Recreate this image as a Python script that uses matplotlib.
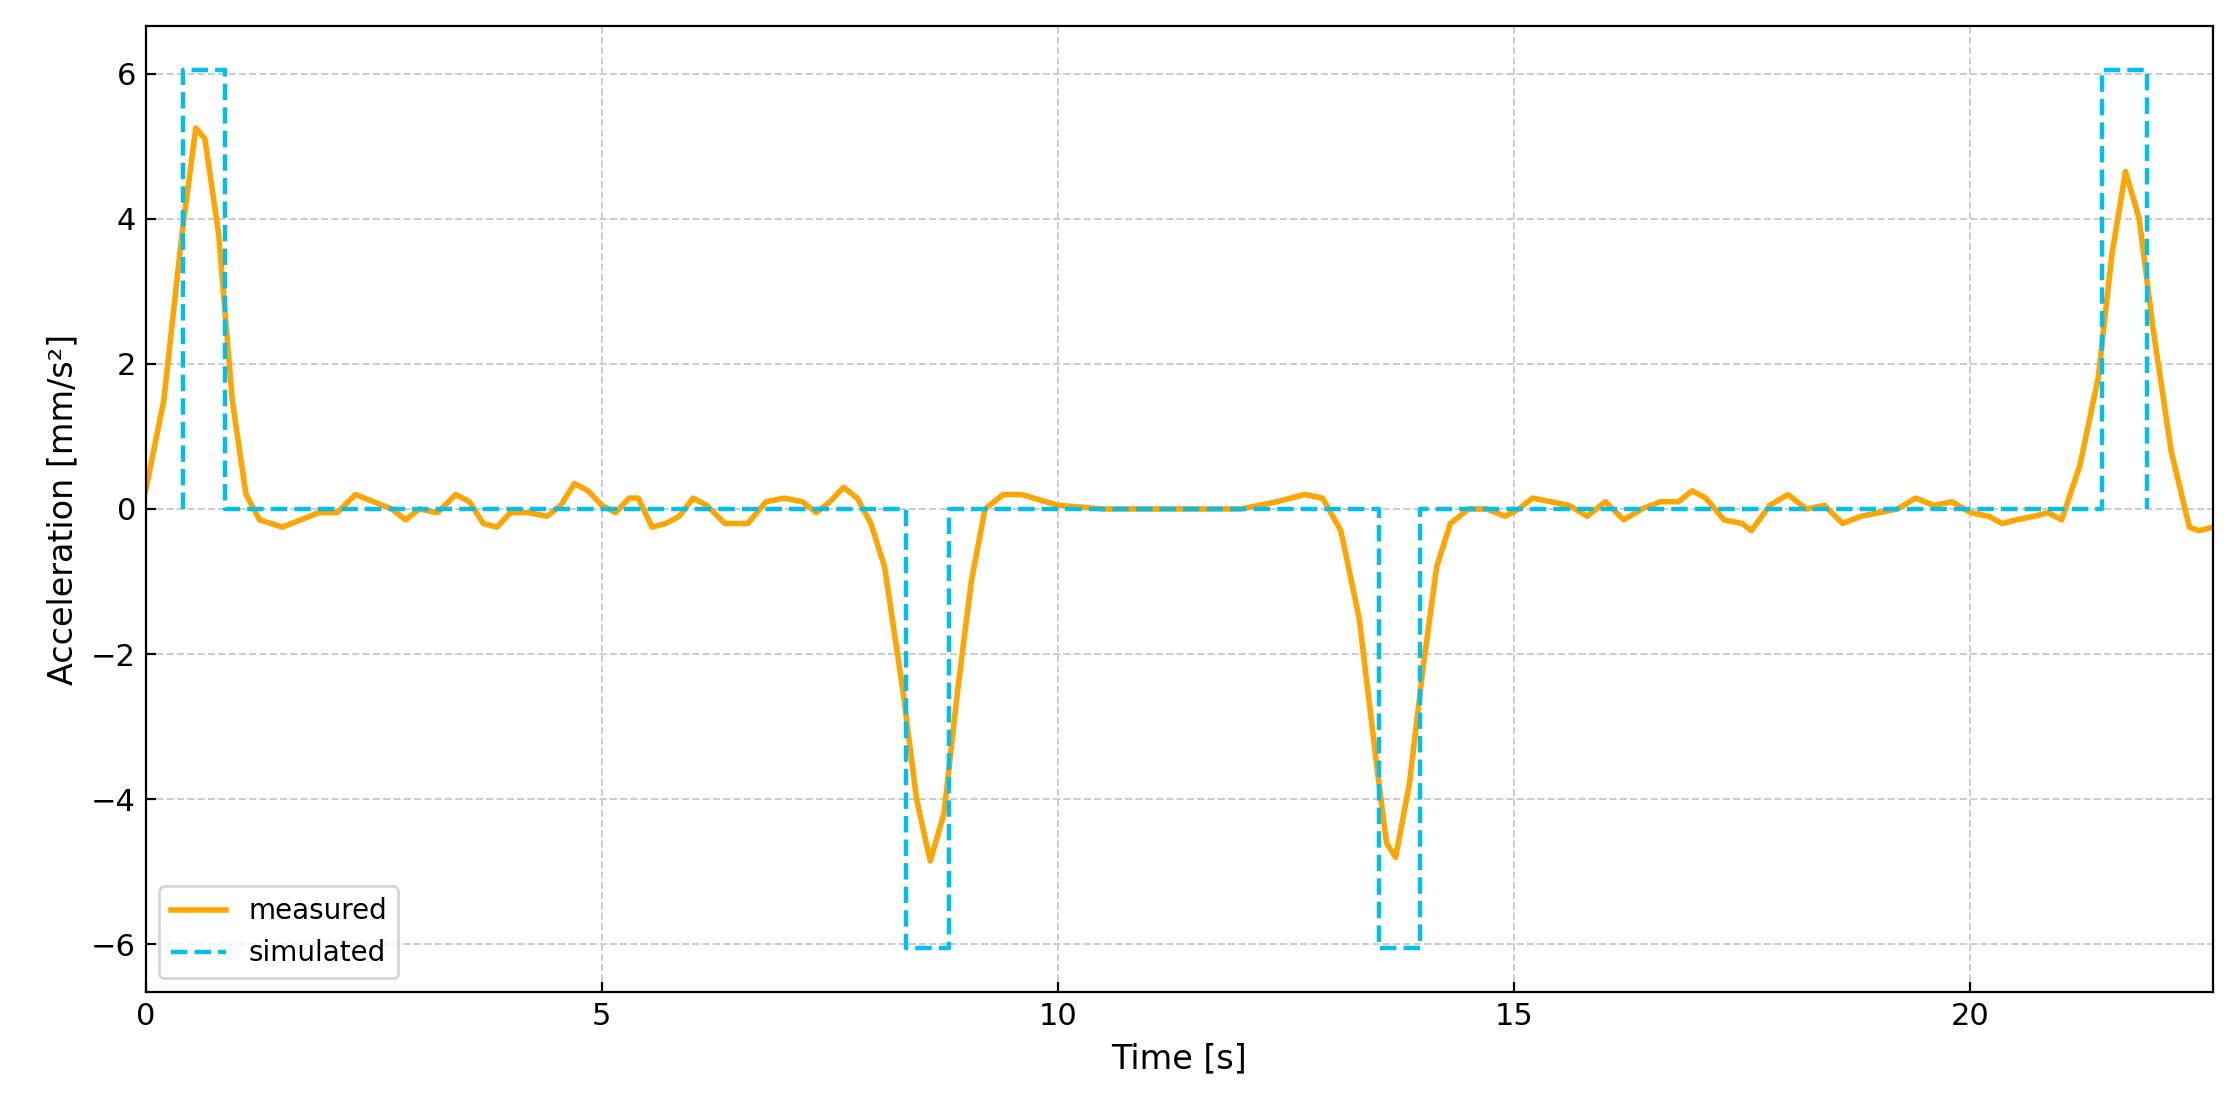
import matplotlib
matplotlib.use("Agg")
import matplotlib.pyplot as plt

meas_t = [0, 0.2, 0.4, 0.55, 0.65, 0.8, 0.95, 1.1, 1.25, 1.5, 1.7, 1.9, 2.1, 2.3, 2.5, 2.7, 2.85, 3.0, 3.2, 3.4, 3.55, 3.7, 3.85, 4.0, 4.2, 4.4, 4.55, 4.7, 4.85, 5.0, 5.15, 5.3, 5.4, 5.55, 5.7, 5.85, 6.0, 6.15, 6.35, 6.6, 6.8, 7.0, 7.2, 7.35, 7.5, 7.65, 7.8, 7.95, 8.1, 8.3, 8.45, 8.6, 8.75, 8.9, 9.05, 9.2, 9.4, 9.6, 10.0, 10.5, 12.0, 12.4, 12.7, 12.9, 13.1, 13.3, 13.5, 13.6, 13.7, 13.85, 14.0, 14.15, 14.3, 14.5, 14.7, 14.9, 15.05, 15.2, 15.4, 15.6, 15.8, 16.0, 16.2, 16.4, 16.6, 16.8, 16.95, 17.1, 17.3, 17.5, 17.6, 17.8, 18.0, 18.2, 18.4, 18.6, 18.8, 19.0, 19.2, 19.4, 19.6, 19.8, 20.0, 20.2, 20.35, 20.5, 20.7, 20.85, 21.0, 21.2, 21.4, 21.55, 21.7, 21.85, 22.0, 22.2, 22.4, 22.5, 22.66]
meas_a = [0.25, 1.5, 3.8, 5.25, 5.1, 3.8, 1.5, 0.2, -0.15, -0.25, -0.15, -0.05, -0.05, 0.2, 0.1, 0.0, -0.15, 0.0, -0.05, 0.2, 0.1, -0.2, -0.25, -0.05, -0.05, -0.1, 0.05, 0.35, 0.25, 0.05, -0.05, 0.15, 0.15, -0.25, -0.2, -0.1, 0.15, 0.05, -0.2, -0.2, 0.1, 0.15, 0.1, -0.05, 0.1, 0.3, 0.15, -0.2, -0.8, -2.5, -4.0, -4.85, -4.2, -2.5, -1.0, 0.0, 0.2, 0.2, 0.05, 0.0, 0.0, 0.1, 0.2, 0.15, -0.3, -1.5, -3.6, -4.6, -4.8, -3.8, -2.2, -0.8, -0.2, 0.0, 0.0, -0.1, 0.0, 0.15, 0.1, 0.05, -0.1, 0.1, -0.15, 0.0, 0.1, 0.1, 0.25, 0.15, -0.15, -0.2, -0.3, 0.05, 0.2, 0.0, 0.05, -0.2, -0.1, -0.05, 0.0, 0.15, 0.05, 0.1, -0.05, -0.1, -0.2, -0.15, -0.1, -0.05, -0.15, 0.6, 1.8, 3.5, 4.65, 4.0, 2.5, 0.8, -0.25, -0.3, -0.25]

sim_t = [0.0, 0.41, 0.41, 0.87, 0.87, 8.33, 8.33, 8.8, 8.8, 13.52, 13.52, 13.97, 13.97, 21.44, 21.44, 21.94, 21.94]
sim_a = [0.0, 0.0, 6.05, 6.05, 0.0, 0.0, -6.05, -6.05, 0.0, 0.0, -6.05, -6.05, 0.0, 0.0, 6.05, 6.05, 0.0]

fig, ax = plt.subplots(figsize=(11.2, 5.575), dpi=200)
fig.subplots_adjust(left=0.065, right=0.988, top=0.977, bottom=0.11)
ax.plot(meas_t, meas_a, color='#FFA500', lw=2.0, label='measured')
ax.plot(sim_t[1:], sim_a[1:], color='#00BFEF', lw=1.6, ls='--', label='simulated')
ax.set_xlim(0, 22.66)
ax.set_ylim(-6.66, 6.66)
ax.set_xticks([0, 5, 10, 15, 20])
ax.set_yticks([-6, -4, -2, 0, 2, 4, 6])
ax.grid(True, ls='--', color='#cccccc', lw=0.7)
ax.tick_params(direction='in', labelsize=11)
ax.set_xlabel('Time [s]', fontsize=12)
ax.set_ylabel('Acceleration [mm/s²]', fontsize=12)
ax.legend(loc='lower left', fontsize=10)
fig.savefig('out.png')
